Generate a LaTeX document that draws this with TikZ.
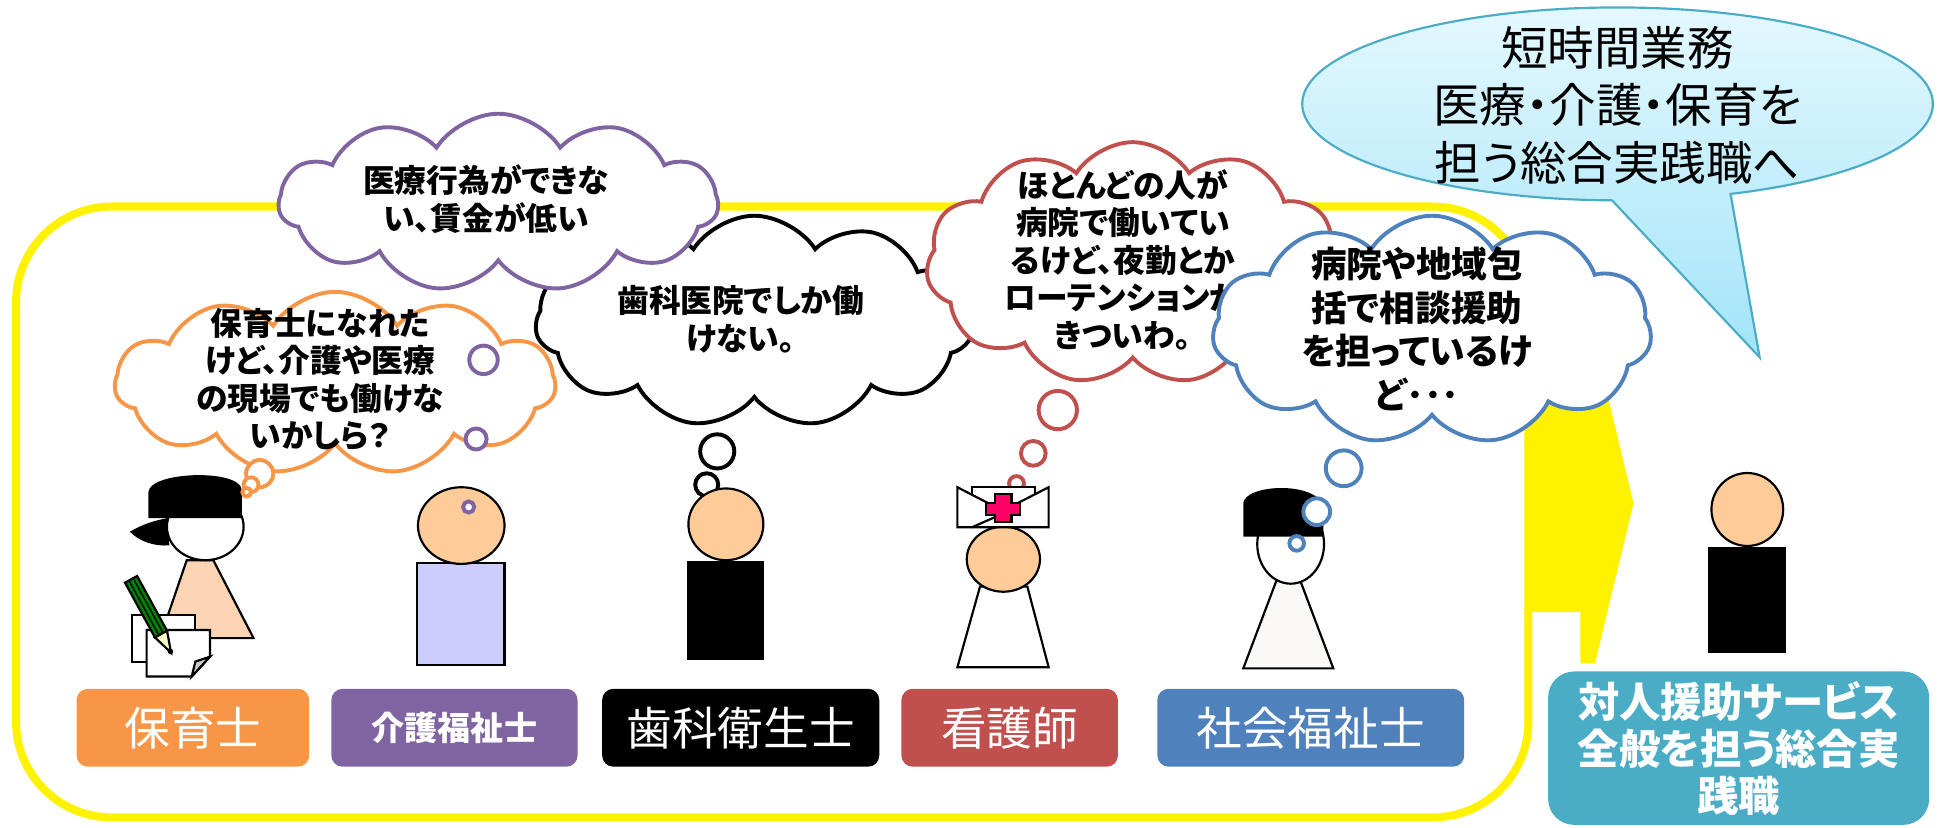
\documentclass[tikz,border=0pt]{standalone}
\usepackage{fontspec}
\setmainfont{Noto Sans CJK JP}[RawFeature=+palt]
\usepackage{tikz}
\usetikzlibrary{positioning,shapes.symbols}
\tikzset{>=stealth}
\definecolor{hoiku}{HTML}{F79646}
\definecolor{kaigo}{HTML}{8064A2}
\definecolor{kango}{HTML}{C0504D}
\definecolor{shakai}{HTML}{4F81BD}
\definecolor{sogo}{HTML}{4BACC6}
\definecolor{skin}{HTML}{FFCC99}
\definecolor{peach}{HTML}{FBD4B4}
\definecolor{lavender}{HTML}{CCCCFF}
\definecolor{coat}{HTML}{FAF9F7}
\definecolor{lead}{HTML}{008000}
\definecolor{cream}{HTML}{FFFFCC}
\definecolor{cross}{HTML}{FF0066}
\definecolor{bubbletop}{HTML}{E4F8FE}
\definecolor{bubblebot}{HTML}{A2E4F8}
\definecolor{bubbleline}{HTML}{4BACC6}
\newcommand\cloudfont{\bfseries\fontsize{7.3pt}{8.6pt}\selectfont}
\newcommand\jobfont{\fontsize{10.5pt}{12pt}\selectfont}

\begin{document}
\begin{tikzpicture}[x=0.01cm,y=-0.01cm,
  thought/.style={cloud,cloud puffs=11,cloud puff arc=115,cloud ignores aspect,fill=white,line width=.9pt,inner sep=0pt},
  words/.style={align=center,inner sep=0pt,font=\cloudfont},
  ring/.style={fill=white,line width=.9pt},
  skinline/.style={draw=black,line width=.5pt},
  job/.style={rounded corners=2.6pt,text=white,inner sep=0pt,minimum height=.63cm,font=\jobfont}]
\useasboundingbox (0,0) rectangle (1568,669);

\fill[yellow] (1236,278) -- (1290,278) -- (1321,407) -- (1290,536) -- (1278,536) -- (1278,495) -- (1236,495) -- cycle;
\draw[yellow,line width=1.85pt,rounded corners=22pt] (13,167) rectangle (1236,661);

\node[thought,draw=black,minimum width=3.54cm,minimum height=1.71cm] (thShika) at (610,260) {};
\node[words] (txShika) at (599,258) {歯科医院でしか働\\けない。};
\node[thought,draw=kaigo,minimum width=3.55cm,minimum height=1.44cm] (thKaigo) at (403,164) {};
\node[words] (txKaigo) at (393,161) {医療行為ができな\\い、賃金が低い};
\node[thought,draw=hoiku,minimum width=3.56cm,minimum height=1.48cm] (thHoiku) at (271,310) {};
\node[words] (txHoiku) at (259,307) {保育士になれた\\けど、介護や医療\\の現場でも働けな\\いかしら？};
\node[thought,draw=kango,minimum width=3.34cm,minimum height=1.96cm] (thKango) at (916,213) {};
\node[words] (txKango) at (908,210) {ほとんどの人が\\病院で働いてい\\るけど、夜勤とか\\ローテンションが\\きついわ。};
\node[thought,draw=shakai,minimum width=3.55cm,minimum height=1.85cm] (thShakai) at (1158,267) {};
\node[words,font=\bfseries\fontsize{8.2pt}{10pt}\selectfont] (txShakai) at (1146,266) {病院や地域包\\括で相談援助\\を担っているけ\\ど･･･};

\draw[ring] (580,365) circle[radius=13.8];
\draw[ring] (571.5,392) circle[radius=9.3];

\fill (105,430) .. controls (115,424) and (125,421) .. (135,419) -- (137,441) .. controls (125,442) and (113,438) .. (105,430) -- cycle;
\filldraw[fill=peach,skinline] (151,453) -- (172.5,453) -- (205,516) -- (129.5,516) -- cycle;
\filldraw[fill=white,skinline] (166,426) ellipse[x radius=31,y radius=27];
\fill (120,419) -- (120,398) .. controls (121,381) and (194,379) .. (195.5,396) -- (195.5,419) -- cycle;
\filldraw[fill=white,skinline] (106.5,497) rectangle (157.7,535);
\filldraw[fill=white,skinline] (118.6,509.4) -- (169.8,509.4) -- (169.8,531) -- (155,547.1) -- (118.6,547.1) -- cycle;
\filldraw[fill=gray!40,skinline] (169.8,531) -- (155,547.1) -- (158,535) -- cycle;
\filldraw[fill=lead,skinline] (135.1,510.1) -- (110.9,465.8) -- (101.1,471.2) -- (125.3,515.5) -- cycle;
\draw[line width=.3pt] (131.9,511.9) -- (107.7,467.6) (128.5,513.7) -- (104.3,469.4);
\filldraw[fill=cream,skinline] (135.1,510.1) -- (138.3,527.7) -- (125.3,515.5) -- cycle;
\fill (137.8,526.8) circle[radius=2.2];

\filldraw[fill=lavender,skinline] (337,455) rectangle (408,538);
\filldraw[fill=skin,skinline] (373,425) ellipse[x radius=35,y radius=31];

\fill (555.8,454) rectangle (617.8,534);
\filldraw[fill=skin,skinline] (587,424) ellipse[x radius=30.3,y radius=29];

\filldraw[fill=white,skinline] (792.5,474.4) -- (830.8,474.4) -- (848,539.6) -- (774.2,539.6) -- cycle;
\filldraw[fill=skin,skinline] (811.4,452.2) ellipse[x radius=29.6,y radius=26.3];

\filldraw[fill=coat,skinline] (1032.4,469) -- (1051.3,469) -- (1078.2,540.5) -- (1005.4,540.5) -- cycle;
\filldraw[fill=white,skinline] (1043.7,440) ellipse[x radius=27,y radius=32];
\fill (1005.4,433.9) -- (1005.4,407) .. controls (1007,391) and (1066,389) .. (1070.1,410) -- (1070.1,433.9) -- cycle;

\filldraw[fill=black,skinline] (1382,443) rectangle (1443,527);
\filldraw[fill=skin,skinline] (1413,412) ellipse[x radius=29,y radius=29.5];

\draw[ring,draw=hoiku] (210,383) circle[radius=11];
\draw[ring,draw=hoiku] (203,392) circle[radius=6];
\draw[ring,draw=hoiku] (199.5,398) circle[radius=3.5];
\draw[ring,draw=kaigo] (391,291) circle[radius=11.5];
\draw[ring,draw=kaigo] (385,355) circle[radius=8.5];
\draw[ring,draw=kaigo] (379,410) circle[radius=4.5];
\draw[ring,draw=kango] (855.4,331.6) circle[radius=15.5];
\draw[ring,draw=kango] (835.6,366.6) circle[radius=10];
\draw[ring,draw=kango] (822,391) circle[radius=6];
\draw[ring,draw=shakai] (1086.6,378.7) circle[radius=14.5];
\draw[ring,draw=shakai] (1064.8,413.8) circle[radius=10.8];
\draw[ring,draw=shakai] (1048.6,439.4) circle[radius=5.9];

\filldraw[fill=white,skinline] (786,394) rectangle (837,410);
\filldraw[fill=white,skinline] (774.2,394) -- (811,413) -- (848,394) -- (848,426.4) -- (774.2,426.4) -- cycle;
\draw[skinline] (786,426.4) -- (805,418);
\filldraw[fill=cross,skinline] (804.6,399.5) -- (818,399.5) -- (818,406.5) -- (825,406.5) -- (825,416.5) -- (818,416.5) -- (818,422.4) -- (804.6,422.4) -- (804.6,416.5) -- (797.3,416.5) -- (797.3,406.5) -- (804.6,406.5) -- cycle;

\node[job,fill=hoiku,minimum width=1.88cm] (lblHoiku) at (156,588.5) {保育士};
\node[job,fill=kaigo,minimum width=1.99cm,font=\bfseries\fontsize{7.6pt}{9pt}\selectfont] (lblKaigo) at (367.5,588.5) {介護福祉士};
\node[job,fill=black,minimum width=2.24cm] (lblShika) at (599,588.5) {歯科衛生士};
\node[job,fill=kango,minimum width=1.75cm] (lblKango) at (816.5,588.5) {看護師};
\node[job,fill=shakai,minimum width=2.48cm] (lblShakai) at (1060,588.5) {社会福祉士};
\node[fill=sogo,rounded corners=6pt,minimum width=3.08cm,minimum height=1.24cm,text=white,align=center,inner sep=0pt,font=\bfseries\fontsize{9.5pt}{10.8pt}\selectfont] (lblSogo) at (1406,605) {対人援助サービス\\全般を担う総合実\\践職};

\coordinate (tail) at (1423,289);
\path[draw=bubbleline,line width=.5pt,top color=bubbletop,bottom color=bubblebot] (1303.6,162) arc[start angle=91,end angle=429,x radius=255,y radius=78] -- (tail) -- cycle;
\node[align=center,inner sep=0pt,font=\fontsize{10.7pt}{13.2pt}\selectfont] (goal) at (1308,85) {短時間業務\\医療・介護・保育を\\担う総合実践職へ};
\end{tikzpicture}
\end{document}
